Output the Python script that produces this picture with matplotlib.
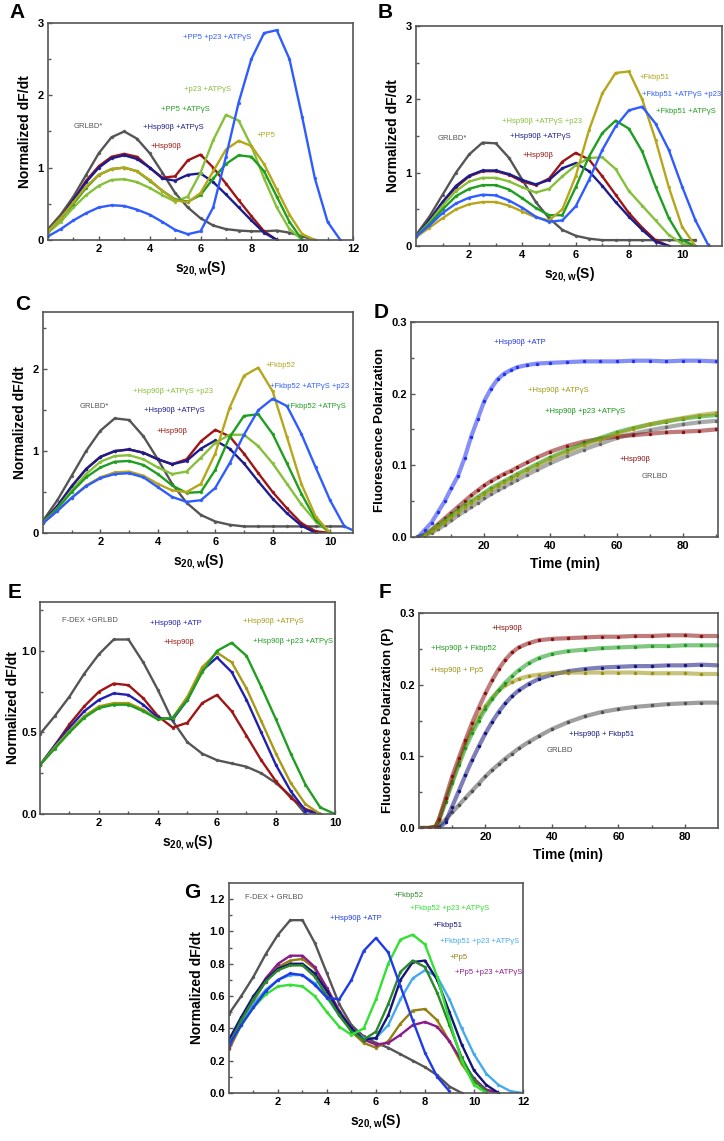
import matplotlib
matplotlib.use('Agg')
import matplotlib.pyplot as plt
import numpy as np

plt.rcParams['font.family'] = ['Liberation Sans', 'DejaVu Sans']
plt.rcParams['mathtext.fontset'] = 'custom'
plt.rcParams['mathtext.rm'] = 'Liberation Sans'
plt.rcParams['mathtext.bf'] = 'Liberation Sans:bold'

# colours
GRAY = '#555555'
RED = '#9e1515'
NAVY = '#1c1c8c'
GREEN = '#1f9e1f'
LGREEN = '#86c03a'
OLIVE = '#b5a61c'
BLUE = '#2f5cff'

# ---------------- panel A (s20,w grid step 0.5) ----------------
s_A = np.arange(0, 12.01, 0.5)
A_grlbd = [0.15, 0.35, 0.6, 0.9, 1.2, 1.42, 1.5, 1.4, 1.2, 0.93, 0.65, 0.45, 0.3, 0.2, 0.15, 0.13, 0.12, 0.12, 0.13, 0.1, 0.05, 0.0]
A_hsp = [0.12, 0.3, 0.55, 0.82, 1.02, 1.15, 1.19, 1.15, 1.0, 0.86, 0.88, 1.1, 1.18, 1.0, 0.78, 0.55, 0.33, 0.12, 0.0]
A_hsp_atps = [0.12, 0.3, 0.55, 0.8, 1.0, 1.13, 1.17, 1.12, 1.0, 0.85, 0.82, 0.9, 0.92, 0.8, 0.63, 0.45, 0.27, 0.1, 0.0]
A_pp5_atps = [0.12, 0.3, 0.5, 0.72, 0.9, 0.98, 1.0, 0.95, 0.82, 0.68, 0.56, 0.53, 0.62, 0.85, 1.05, 1.17, 1.15, 0.95, 0.6, 0.25, 0.0]
A_p23_atps = [0.1, 0.25, 0.45, 0.62, 0.75, 0.83, 0.84, 0.8, 0.72, 0.62, 0.53, 0.6, 0.93, 1.38, 1.73, 1.65, 1.3, 0.85, 0.45, 0.15, 0.0]
A_pp5 = [0.12, 0.3, 0.52, 0.74, 0.9, 0.98, 1.0, 0.95, 0.83, 0.68, 0.55, 0.52, 0.65, 0.95, 1.25, 1.37, 1.3, 1.05, 0.7, 0.35, 0.08, 0.0]
A_pp5_p23_atps = [0.05, 0.15, 0.27, 0.37, 0.45, 0.48, 0.47, 0.42, 0.35, 0.25, 0.14, 0.08, 0.12, 0.45, 1.15, 1.9, 2.5, 2.86, 2.9, 2.5, 1.7, 0.85, 0.25, 0.0]

# ---------------- panel B ----------------
s_B = np.arange(0, 11.51, 0.5)
B_grlbd = [0.15, 0.4, 0.7, 1.0, 1.25, 1.41, 1.4, 1.2, 0.9, 0.6, 0.38, 0.22, 0.14, 0.1, 0.08, 0.08, 0.08, 0.08, 0.08, 0.08, 0.08, 0.08]
B_hsp = [0.13, 0.35, 0.6, 0.8, 0.95, 1.02, 1.02, 0.97, 0.88, 0.83, 0.92, 1.15, 1.27, 1.18, 0.95, 0.7, 0.45, 0.25, 0.08, 0.0]
B_hsp_atps = [0.13, 0.35, 0.6, 0.82, 0.96, 1.03, 1.03, 0.98, 0.9, 0.84, 0.9, 1.06, 1.13, 1.02, 0.82, 0.6, 0.4, 0.22, 0.06, 0.0]
B_hsp_atps_p23 = [0.13, 0.32, 0.55, 0.75, 0.88, 0.93, 0.93, 0.88, 0.8, 0.73, 0.78, 0.95, 1.1, 1.2, 1.21, 1.05, 0.75, 0.55, 0.35, 0.15, 0.03, 0.0]
B_fk51_atps = [0.13, 0.3, 0.5, 0.68, 0.78, 0.83, 0.83, 0.77, 0.65, 0.52, 0.42, 0.42, 0.8, 1.22, 1.54, 1.71, 1.6, 1.29, 0.81, 0.38, 0.08, 0.0]
B_fk51 = [0.12, 0.25, 0.38, 0.5, 0.57, 0.6, 0.6, 0.55, 0.47, 0.39, 0.35, 0.5, 0.95, 1.58, 2.08, 2.36, 2.38, 2.0, 1.45, 0.8, 0.26, 0.0]
B_fk51_atps_p23 = [0.13, 0.28, 0.45, 0.58, 0.66, 0.7, 0.69, 0.62, 0.52, 0.4, 0.33, 0.35, 0.54, 0.9, 1.31, 1.63, 1.85, 1.9, 1.67, 1.31, 0.81, 0.35, 0.0]

# ---------------- panel C ----------------
s_C = np.arange(0, 11.01, 0.5)
C_grlbd = [0.15, 0.4, 0.7, 1.0, 1.25, 1.4, 1.38, 1.18, 0.9, 0.6, 0.37, 0.22, 0.14, 0.1, 0.08, 0.08, 0.08, 0.08, 0.08, 0.08, 0.08, 0.08]
C_hsp = [0.13, 0.33, 0.57, 0.78, 0.93, 1.0, 1.02, 0.98, 0.9, 0.84, 0.9, 1.12, 1.26, 1.18, 0.97, 0.73, 0.5, 0.3, 0.12, 0.02, 0.0]
C_hsp_atps = [0.13, 0.33, 0.57, 0.78, 0.93, 1.0, 1.02, 0.98, 0.9, 0.84, 0.88, 1.03, 1.13, 1.03, 0.85, 0.63, 0.42, 0.24, 0.09, 0.0]
C_hsp_atps_p23 = [0.13, 0.3, 0.52, 0.72, 0.87, 0.94, 0.95, 0.9, 0.8, 0.72, 0.75, 0.92, 1.1, 1.2, 1.2, 1.06, 0.85, 0.6, 0.35, 0.14, 0.0]
C_fk52_atps = [0.13, 0.3, 0.5, 0.68, 0.8, 0.87, 0.88, 0.83, 0.72, 0.58, 0.49, 0.5, 0.77, 1.17, 1.43, 1.45, 1.21, 0.85, 0.48, 0.16, 0.0]
C_fk52 = [0.12, 0.27, 0.43, 0.58, 0.68, 0.74, 0.75, 0.7, 0.6, 0.52, 0.5, 0.6, 0.97, 1.53, 1.92, 2.02, 1.73, 1.17, 0.6, 0.2, 0.0]
C_fk52_atps_p23 = [0.12, 0.27, 0.43, 0.57, 0.67, 0.72, 0.73, 0.68, 0.56, 0.44, 0.38, 0.4, 0.55, 0.85, 1.2, 1.5, 1.64, 1.55, 1.21, 0.8, 0.4, 0.08, 0.0]

# ---------------- panel D (time, min) ----------------
t_D = [0, 2, 4, 6, 8, 10, 12, 14, 16, 18, 20, 22, 24, 26, 28, 30, 33, 36, 40, 45, 50, 55, 60, 65, 70, 75, 80, 85, 90]
D_hsp_atp = [0, 0.01, 0.02, 0.035, 0.05, 0.068, 0.085, 0.11, 0.14, 0.165, 0.19, 0.207, 0.22, 0.228, 0.233, 0.237, 0.24, 0.242, 0.243, 0.244, 0.245, 0.245, 0.245, 0.246, 0.246, 0.245, 0.246, 0.246, 0.245]
D_grlbd = [0, 0.002, 0.006, 0.011, 0.017, 0.023, 0.03, 0.036, 0.042, 0.048, 0.054, 0.06, 0.065, 0.07, 0.075, 0.08, 0.087, 0.094, 0.103, 0.113, 0.122, 0.13, 0.138, 0.144, 0.149, 0.153, 0.157, 0.16, 0.162]
D_hsp_atps = [0, 0.003, 0.008, 0.014, 0.021, 0.028, 0.035, 0.042, 0.048, 0.054, 0.06, 0.066, 0.071, 0.076, 0.081, 0.086, 0.093, 0.1, 0.109, 0.119, 0.128, 0.136, 0.144, 0.151, 0.157, 0.162, 0.166, 0.17, 0.173]
D_hsp_p23_atps = [0, 0.003, 0.009, 0.016, 0.023, 0.03, 0.037, 0.044, 0.05, 0.056, 0.062, 0.068, 0.073, 0.078, 0.083, 0.088, 0.095, 0.102, 0.111, 0.121, 0.13, 0.138, 0.146, 0.152, 0.157, 0.161, 0.165, 0.168, 0.17]
D_hsp = [0, 0.003, 0.01, 0.018, 0.026, 0.034, 0.042, 0.05, 0.058, 0.065, 0.072, 0.078, 0.083, 0.088, 0.092, 0.097, 0.104, 0.111, 0.119, 0.127, 0.133, 0.137, 0.14, 0.142, 0.144, 0.146, 0.147, 0.148, 0.15]

# ---------------- panel E ----------------
s_E = np.arange(0, 10.01, 0.5)
E_grlbd = [0.49, 0.6, 0.72, 0.86, 0.98, 1.07, 1.07, 0.93, 0.76, 0.57, 0.44, 0.37, 0.33, 0.31, 0.29, 0.25, 0.19, 0.11, 0.0]
E_hsp = [0.3, 0.42, 0.55, 0.66, 0.75, 0.8, 0.79, 0.71, 0.6, 0.53, 0.56, 0.68, 0.73, 0.63, 0.48, 0.33, 0.2, 0.1, 0.03, 0.0]
E_hsp_atp = [0.3, 0.42, 0.53, 0.63, 0.7, 0.74, 0.73, 0.67, 0.59, 0.58, 0.7, 0.88, 0.96, 0.87, 0.7, 0.5, 0.3, 0.14, 0.02, 0.0]
E_hsp_atps = [0.3, 0.41, 0.51, 0.6, 0.66, 0.68, 0.68, 0.64, 0.58, 0.59, 0.72, 0.9, 0.99, 0.93, 0.77, 0.57, 0.37, 0.19, 0.06, 0.0]
E_hsp_p23_atps = [0.3, 0.4, 0.5, 0.59, 0.65, 0.67, 0.67, 0.63, 0.58, 0.59, 0.7, 0.87, 1.0, 1.05, 0.97, 0.78, 0.58, 0.37, 0.18, 0.04, 0.0]

# ---------------- panel F (time, min) ----------------
t_F = [1, 3, 5, 6, 8, 10, 12, 14, 16, 18, 20, 22, 24, 26, 28, 30, 33, 36, 40, 45, 50, 55, 60, 65, 70, 75, 80, 85, 90]
F_hsp = [0, 0, 0.002, 0.012, 0.042, 0.072, 0.098, 0.123, 0.147, 0.168, 0.188, 0.206, 0.222, 0.235, 0.245, 0.252, 0.258, 0.262, 0.264, 0.265, 0.266, 0.267, 0.267, 0.268, 0.268, 0.269, 0.269, 0.268, 0.268]
F_hsp_fk52 = [0, 0, 0.002, 0.01, 0.036, 0.063, 0.088, 0.112, 0.132, 0.15, 0.166, 0.18, 0.192, 0.203, 0.212, 0.22, 0.23, 0.237, 0.243, 0.247, 0.249, 0.251, 0.252, 0.253, 0.254, 0.254, 0.255, 0.255, 0.255]
F_hsp_pp5 = [0, 0, 0.002, 0.012, 0.038, 0.065, 0.092, 0.118, 0.138, 0.155, 0.17, 0.182, 0.192, 0.199, 0.204, 0.208, 0.212, 0.214, 0.216, 0.217, 0.217, 0.217, 0.217, 0.217, 0.216, 0.216, 0.216, 0.215, 0.215]
F_hsp_fk51 = [0, 0, 0, 0, 0.008, 0.03, 0.052, 0.074, 0.095, 0.114, 0.132, 0.148, 0.162, 0.174, 0.184, 0.192, 0.201, 0.208, 0.214, 0.219, 0.222, 0.224, 0.225, 0.226, 0.226, 0.227, 0.227, 0.228, 0.227]
F_grlbd = [0, 0, 0, 0.003, 0.012, 0.022, 0.032, 0.042, 0.052, 0.062, 0.072, 0.081, 0.089, 0.097, 0.104, 0.111, 0.12, 0.128, 0.138, 0.148, 0.156, 0.162, 0.166, 0.169, 0.171, 0.173, 0.174, 0.175, 0.175]

# ---------------- panel G ----------------
s_G = np.arange(0, 12.01, 0.5)
G_grlbd = [0.49, 0.6, 0.72, 0.86, 0.98, 1.07, 1.07, 0.93, 0.74, 0.55, 0.42, 0.35, 0.31, 0.28, 0.24, 0.2, 0.16, 0.11, 0.04, 0.0]
G_hsp_atp = [0.3, 0.42, 0.53, 0.63, 0.7, 0.74, 0.73, 0.67, 0.59, 0.58, 0.7, 0.88, 0.96, 0.87, 0.66, 0.45, 0.25, 0.1, 0.01]
G_fk52 = [0.3, 0.45, 0.58, 0.69, 0.76, 0.79, 0.79, 0.72, 0.6, 0.48, 0.38, 0.33, 0.38, 0.55, 0.75, 0.82, 0.78, 0.62, 0.42, 0.22, 0.08, 0.01]
G_fk52_p23_atps = [0.3, 0.42, 0.53, 0.61, 0.66, 0.67, 0.66, 0.6, 0.5, 0.41, 0.36, 0.4, 0.58, 0.8, 0.95, 0.98, 0.92, 0.72, 0.45, 0.2, 0.05, 0.0]
G_fk51 = [0.33, 0.47, 0.6, 0.7, 0.77, 0.8, 0.8, 0.74, 0.63, 0.5, 0.4, 0.33, 0.34, 0.48, 0.7, 0.81, 0.82, 0.7, 0.5, 0.3, 0.14, 0.05, 0.0]
G_fk51_p23_atps = [0.3, 0.43, 0.55, 0.64, 0.7, 0.73, 0.73, 0.68, 0.59, 0.48, 0.39, 0.34, 0.34, 0.42, 0.58, 0.71, 0.76, 0.72, 0.58, 0.4, 0.24, 0.12, 0.05, 0.01, 0.0]
G_pp5 = [0.27, 0.42, 0.57, 0.69, 0.78, 0.82, 0.83, 0.77, 0.64, 0.5, 0.38, 0.31, 0.28, 0.32, 0.43, 0.51, 0.52, 0.45, 0.32, 0.18, 0.07, 0.02, 0.0]
G_pp5_p23_atps = [0.28, 0.44, 0.59, 0.71, 0.8, 0.85, 0.85, 0.78, 0.65, 0.51, 0.4, 0.33, 0.3, 0.31, 0.36, 0.42, 0.44, 0.41, 0.32, 0.2, 0.09, 0.02, 0.0]


fig = plt.figure(figsize=(7.24, 11.41), dpi=100)


def style(ax, xlim, ylim, xmaj, xmin, ymaj, ymin, fmt=None):
    ax.set_xlim(*xlim)
    ax.set_ylim(*ylim)
    ax.set_xticks(xmaj)
    ax.set_xticks(xmin, minor=True)
    ax.set_yticks(ymaj)
    ax.set_yticks(ymin, minor=True)
    if fmt:
        ax.set_yticklabels([fmt % v for v in ymaj])
    for sp in ax.spines.values():
        sp.set_color('#555555')
        sp.set_linewidth(1.2)
    ax.tick_params(which='both', direction='in', top=False, right=False,
                   color='#555555', labelsize=8, width=1, pad=3)
    ax.tick_params(which='major', length=3)
    ax.tick_params(which='minor', length=2)
    for lab in ax.get_xticklabels() + ax.get_yticklabels():
        lab.set_fontweight('bold')


def curves(ax, x, series):
    for vals, col in series:
        xs = np.asarray(x, dtype=float)[:len(vals)]
        ax.plot(xs, vals, '.', color=col, ms=3, alpha=0.8)
        ax.plot(xs, vals, '-', color=col, lw=1.7)


def traces(ax, x, series):
    for vals, col in series:
        ax.plot(x, vals, '-', color=col, lw=3.0, alpha=0.55)
        ax.plot(x, vals, '.', color=col, ms=3)


def labels(ax, items):
    for x, y, txt, col in items:
        ax.text(x, y, txt, color=col, fontsize=5.5, va='center', ha='left')


SLABEL = r'$\mathbf{s_{20,w}}$(S)'

# A
axA = fig.add_axes([0.0663, 0.7897, 0.4213, 0.1902])
curves(axA, s_A, [(A_grlbd, GRAY), (A_hsp, RED), (A_hsp_atps, NAVY), (A_p23_atps, LGREEN),
                  (A_pp5_atps, GREEN), (A_pp5, OLIVE), (A_pp5_p23_atps, BLUE)])
labels(axA, [(5.3, 2.8, '+PP5 +p23 +ATPγS', BLUE), (5.36, 2.08, '+p23 +ATPγS', LGREEN),
             (4.44, 1.81, '+PP5 +ATPγS', GREEN), (1.0, 1.57, 'GRLBD*', GRAY),
             (3.72, 1.55, '+Hsp90β +ATPγS', NAVY), (4.03, 1.29, '+Hsp90β', RED),
             (8.2, 1.44, '+PP5', OLIVE)])
style(axA, (0, 12), (0, 3), [2, 4, 6, 8, 10, 12], [1, 3, 5, 7, 9, 11], [0, 1, 2, 3], [0.5, 1.5, 2.5])
axA.set_ylabel('Normalized dF/dt', fontsize=10, fontweight='bold', labelpad=4)
axA.set_xlabel(SLABEL, fontsize=10, fontweight='bold', labelpad=4)

# B
axB = fig.add_axes([0.5746, 0.7844, 0.4227, 0.1928])
curves(axB, s_B, [(B_grlbd, GRAY), (B_hsp, RED), (B_hsp_atps, NAVY), (B_hsp_atps_p23, LGREEN),
                  (B_fk51_atps, GREEN), (B_fk51, OLIVE), (B_fk51_atps_p23, BLUE)])
labels(axB, [(8.4, 2.3, '+Fkbp51', OLIVE), (8.5, 2.06, '+Fkbp51 +ATPγS +p23', BLUE),
             (9.0, 1.84, '+Fkbp51 +ATPγS', GREEN), (3.23, 1.7, '+Hsp90β +ATPγS +p23', LGREEN),
             (0.82, 1.47, 'GRLBD*', GRAY), (3.55, 1.49, '+Hsp90β +ATPγS', NAVY),
             (4.0, 1.24, '+Hsp90β', RED)])
style(axB, (0, 11.5), (0, 3), [2, 4, 6, 8, 10], [1, 3, 5, 7, 9, 11], [0, 1, 2, 3], [0.5, 1.5, 2.5])
axB.set_ylabel('Normalized dF/dt', fontsize=10, fontweight='bold', labelpad=4)
axB.set_xlabel(SLABEL, fontsize=10, fontweight='bold', labelpad=4)

# C
axC = fig.add_axes([0.0594, 0.5329, 0.4282, 0.1937])
curves(axC, s_C, [(C_grlbd, GRAY), (C_hsp, RED), (C_hsp_atps, NAVY), (C_hsp_atps_p23, LGREEN),
                  (C_fk52_atps, GREEN), (C_fk52, OLIVE), (C_fk52_atps_p23, BLUE)])
labels(axC, [(7.76, 2.04, '+Fkbp52', OLIVE), (7.9, 1.79, '+Fkbp52 +ATPγS +p23', BLUE),
             (8.47, 1.55, '+Fkbp52 +ATPγS', GREEN), (3.15, 1.73, '+Hsp90β +ATPγS +p23', LGREEN),
             (1.29, 1.55, 'GRLBD*', GRAY), (3.52, 1.5, '+Hsp90β +ATPγS', NAVY),
             (3.96, 1.24, '+Hsp90β', RED)])
style(axC, (0, 10.8), (0, 2.7), [2, 4, 6, 8, 10], [1, 3, 5, 7, 9], [0, 1, 2], [0.5, 1.5, 2.5])
axC.set_ylabel('Normalized dF/dt', fontsize=10, fontweight='bold', labelpad=4)
axC.set_xlabel(SLABEL, fontsize=10, fontweight='bold', labelpad=4)

# D
axD = fig.add_axes([0.5677, 0.5294, 0.4240, 0.1884])
traces(axD, t_D, [(D_grlbd, '#666666'), (D_hsp, '#8b1010'), (D_hsp_p23_atps, '#119911'),
                  (D_hsp_atps, '#9a9a10'), (D_hsp_atp, '#2233ee')])
labels(axD, [(23, 0.271, '+Hsp90β +ATP', '#2233ee'), (33.3, 0.205, '+Hsp90β +ATPγS', '#9a9a10'),
             (38.2, 0.175, '+Hsp90β +p23 +ATPγS', '#119911'), (61, 0.108, '+Hsp90β', '#8b1010'),
             (67.5, 0.084, 'GRLBD', '#555555')])
style(axD, (-2.2, 90.7), (0, 0.3), [20, 40, 60, 80], [10, 30, 50, 70, 90],
      [0, 0.1, 0.2, 0.3], [0.05, 0.15, 0.25], fmt='%.1f')
axD.set_ylabel('Fluorescence Polarization', fontsize=9.5, fontweight='bold', labelpad=4)
axD.set_xlabel('Time (min)', fontsize=10, fontweight='bold', labelpad=4)

# E
axE = fig.add_axes([0.0552, 0.2866, 0.4075, 0.1858])
curves(axE, s_E, [(E_grlbd, GRAY), (E_hsp, RED), (E_hsp_atp, '#2020b0'), (E_hsp_atps, '#a89a18'),
                  (E_hsp_p23_atps, GREEN)])
labels(axE, [(0.76, 1.185, 'F-DEX +GRLBD', GRAY), (3.74, 1.17, '+Hsp90β +ATP', '#2020b0'),
             (4.2, 1.05, '+Hsp90β', RED), (6.87, 1.18, '+Hsp90β +ATPγS', '#a89a18'),
             (7.23, 1.06, '+Hsp90β +p23 +ATPγS', GREEN)])
style(axE, (0, 10), (0, 1.3), [2, 4, 6, 8, 10], [1, 3, 5, 7, 9], [0, 0.5, 1.0],
      [0.25, 0.75, 1.25], fmt='%.1f')
axE.tick_params(axis='y', pad=2)
axE.set_ylabel('Normalized dF/dt', fontsize=10, fontweight='bold', labelpad=1)
axE.set_xlabel(SLABEL, fontsize=10, fontweight='bold', labelpad=4)

# F
axF = fig.add_axes([0.5787, 0.2743, 0.4130, 0.1884])
traces(axF, t_F, [(F_grlbd, '#505050'), (F_hsp_fk51, '#151580'), (F_hsp_pp5, '#9a9010'),
                  (F_hsp_fk52, '#1a9a1a'), (F_hsp, '#8b1010')])
labels(axF, [(21.8, 0.279, '+Hsp90β', '#8b1010'), (3.6, 0.251, '+Hsp90β + Fkbp52', '#1a9a1a'),
             (3.3, 0.22, '+Hsp90β + Pp5', '#9a9010'), (45.3, 0.131, '+Hsp90β + Fkbp51', '#151580'),
             (38.3, 0.108, 'GRLBD', '#505050')])
style(axF, (0, 90), (0, 0.3), [20, 40, 60, 80], [10, 30, 50, 70],
      [0, 0.1, 0.2, 0.3], [0.05, 0.15, 0.25], fmt='%.1f')
axF.set_ylabel('Fluorescence Polarization (P)', fontsize=9.5, fontweight='bold', labelpad=4)
axF.set_xlabel('Time (min)', fontsize=10, fontweight='bold', labelpad=4)

# G
axG = fig.add_axes([0.3163, 0.0421, 0.4060, 0.1840])
curves(axG, s_G, [(G_grlbd, GRAY), (G_pp5, '#948010'), (G_pp5_p23_atps, '#8b1a8b'),
                  (G_fk51_p23_atps, '#44aaee'), (G_fk51, '#15157a'), (G_fk52, '#2a8a2a'),
                  (G_fk52_p23_atps, '#33e033'), (G_hsp_atp, '#1f3be8')])
labels(axG, [(0.64, 1.21, 'F-DEX + GRLBD', GRAY), (6.72, 1.22, '+Fkbp52', '#2a8a2a'),
             (7.4, 1.14, '+Fkbp52 +p23 +ATPγS', '#33e033'), (4.14, 1.08, '+Hsp90β +ATP', '#1f3be8'),
             (8.31, 1.04, '+Fkbp51', '#15157a'), (8.63, 0.94, '+Fkbp51 +p23 +ATPγS', '#44aaee'),
             (9.0, 0.84, '+Pp5', '#948010'), (9.24, 0.745, '+Pp5 +p23 +ATPγS', '#8b1a8b')])
style(axG, (0, 12), (0, 1.3), [2, 4, 6, 8, 10, 12], [1, 3, 5, 7, 9, 11],
      [0, 0.2, 0.4, 0.6, 0.8, 1.0, 1.2], [0.1, 0.3, 0.5, 0.7, 0.9, 1.1], fmt='%.1f')
axG.set_ylabel('Normalized dF/dt', fontsize=10, fontweight='bold', labelpad=4)
axG.set_xlabel(SLABEL, fontsize=10, fontweight='bold', labelpad=4)

# panel letters (figure pixel positions)
for px, py, letter in [(17, 13, 'A'), (385, 13, 'B'), (23, 305, 'C'), (381, 313, 'D'),
                       (15, 593, 'E'), (385, 593, 'F'), (192, 893, 'G')]:
    fig.text(px / 724, 1 - py / 1141, letter, fontsize=15, fontweight='bold',
             ha='center', va='center')

fig.savefig('out.png', dpi=100)
